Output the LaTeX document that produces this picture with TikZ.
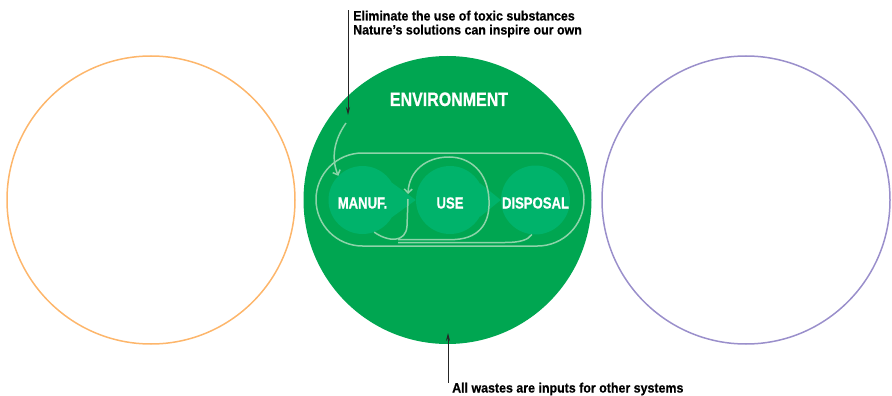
\documentclass[tikz,border=0pt]{standalone}
\usepackage{fontspec}
\setmainfont{Liberation Sans}
\newfontfamily\stagefont{Liberation Sans}[FakeStretch=0.82, FakeBold=0.6]
\newfontfamily\notefont{Liberation Sans}[FakeStretch=0.92, FakeBold=0.5]
\usetikzlibrary{arrows.meta}

\definecolor{envgreen}{HTML}{00A651}
\definecolor{stagegreen}{HTML}{00B36B}
\definecolor{loopgreen}{HTML}{8DD4A9}
\definecolor{ringorange}{HTML}{FDB66B}
\definecolor{ringpurple}{HTML}{9A8FCB}

\tikzset{
  ring/.style={circle, minimum size=288pt, inner sep=0pt, line width=1.5pt},
  stage/.style={circle, fill=stagegreen, minimum size=68pt, inner sep=0pt,
    text=white, text height=17pt, text depth=0pt,
    font=\stagefont\bfseries\fontsize{16}{16}\selectfont},
  wedge/.style={fill=stagegreen},
  loopline/.style={draw=loopgreen, line width=1.5pt},
  looparrow/.style={loopline, -{Straight Barb[length=4pt, width=8pt]}},
  note/.style={font=\notefont\bfseries\fontsize{13.5}{14}\selectfont, align=left, inner sep=0pt},
  pointer/.style={draw=black!85, line width=0.8pt, -{Stealth[length=8pt, width=4pt]}},
}

\begin{document}
\begin{tikzpicture}[x=1pt, y=-1pt]
  \useasboundingbox (0,0) rectangle (892,396);
  \node[ring, draw=ringorange] (before) at (151,200) {};
  \node[ring, fill=envgreen] (env) at (447.5,200) {};
  \node[ring, draw=ringpurple] (after) at (746,200) {};
  \node[text=white, inner sep=0pt, anchor=base, font=\stagefont\bfseries\fontsize{19.5}{20}\selectfont] (envtitle) at (449,106) {ENVIRONMENT};

  \node[draw=loopgreen, line width=1.5pt, rounded corners=46.5pt, minimum width=268pt, minimum height=93pt, inner sep=0pt] (loopframe) at (450,199.5) {};

  \node[stage] (manuf) at (362.5,200) {MANUF.};
  \node[stage] (use) at (450,200) {USE};
  \node[stage] (disposal) at (535.5,200) {DISPOSAL};
  \fill[wedge] (manuf.30) -- (use.west) -- (manuf.-30) -- cycle;
  \fill[wedge] (use.30) -- (disposal.west) -- (use.-30) -- cycle;

  \coordinate (feed) at (346,123);
  \coordinate (merge) at (398,239.5);
  \draw[looparrow] (feed) .. controls (334,140) and (331,158) .. (manuf.135);
  \draw[loopline] (manuf.-70) .. controls (388,242) and (406,243) .. (407,226) -- (408,199);
  \draw[looparrow] (merge) -- (455,239.5) .. controls (482,238) and (490,220) .. (489,200)
    .. controls (488,172) and (470,157) .. (449,157) .. controls (426,157) and (409,171) .. (408,194);
  \draw[loopline] (disposal.-96) .. controls (528,240) and (520,242.5) .. (505,242.5) -- (398,242.5);

  \node[note, anchor=north west] (toxic) at (353,10.5) {Eliminate the use of toxic substances\\Nature’s solutions can inspire our own};
  \node[note, anchor=base west] (wastes) at (452,392.5) {All wastes are inputs for other systems};
  \coordinate (inlet) at (348,115);
  \coordinate (outlet) at (448,333);
  \draw[pointer] (toxic.north west -| inlet) -- (inlet);
  \draw[pointer] (wastes.north west -| outlet) -- (outlet);
\end{tikzpicture}
\end{document}
